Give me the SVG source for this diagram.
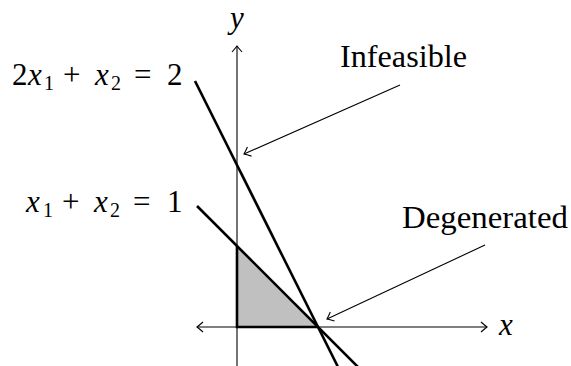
<svg xmlns="http://www.w3.org/2000/svg" width="571" height="366" viewBox="0 0 571 366">
<style>
.thin{stroke:#000;stroke-width:1.1;fill:none}
.thick{stroke:#000;stroke-width:2.6;fill:none}
.i{font-style:italic}
.sub{font-size:20px}
</style>
<defs>
<marker id="ar" markerUnits="userSpaceOnUse" markerWidth="14" markerHeight="14" viewBox="-8 -7 10 14" refX="0" refY="0" orient="auto-start-reverse">
<path d="M -6 -5 Q -2 -1.5 0 0 Q -2 1.5 -6 5" fill="none" stroke="#000" stroke-width="1.1"/>
</marker>
</defs>
<g id="region">
<polygon points="237,327 318,327 237,246" fill="#c0c0c0"/>
</g>
<g id="axes">
<line class="thin" x1="197" y1="327" x2="487" y2="327" marker-start="url(#ar)" marker-end="url(#ar)"/>
<line class="thin" x1="237" y1="374" x2="237" y2="46" marker-start="url(#ar)" marker-end="url(#ar)"/>
</g>
<g id="constraints">
<line class="thick" x1="195" y1="81" x2="340" y2="371"/>
<line class="thick" x1="197" y1="206" x2="362" y2="371"/>
<polyline class="thick" points="237,246 237,327 318,327"/>
</g>
<g id="connectors">
<line class="thin" x1="400" y1="85" x2="244" y2="154" marker-end="url(#ar)"/>
<line class="thin" x1="485" y1="245" x2="327" y2="319" marker-end="url(#ar)"/>
</g>
<g id="labels" font-family="Liberation Serif, serif" font-size="31" fill="#000">
<text class="i" x="237" y="28" text-anchor="middle">y</text>
<text class="i" x="499" y="335">x</text>
<text x="340" y="67" textLength="127" lengthAdjust="spacingAndGlyphs">Infeasible</text>
<text x="402" y="228" textLength="166" lengthAdjust="spacingAndGlyphs">Degenerated</text>
<text id="eq1" y="85"><tspan x="12">2</tspan><tspan class="i" x="28">x</tspan><tspan class="sub" x="44" y="90">1</tspan><tspan x="63" y="85">+</tspan><tspan class="i" x="95">x</tspan><tspan class="sub" x="111" y="90">2</tspan><tspan x="134" y="85">=</tspan><tspan x="167">2</tspan></text>
<text id="eq2" y="212"><tspan class="i" x="26">x</tspan><tspan class="sub" x="43" y="217">1</tspan><tspan x="62" y="212">+</tspan><tspan class="i" x="94">x</tspan><tspan class="sub" x="110" y="217">2</tspan><tspan x="133" y="212">=</tspan><tspan x="167">1</tspan></text>
</g>
</svg>
